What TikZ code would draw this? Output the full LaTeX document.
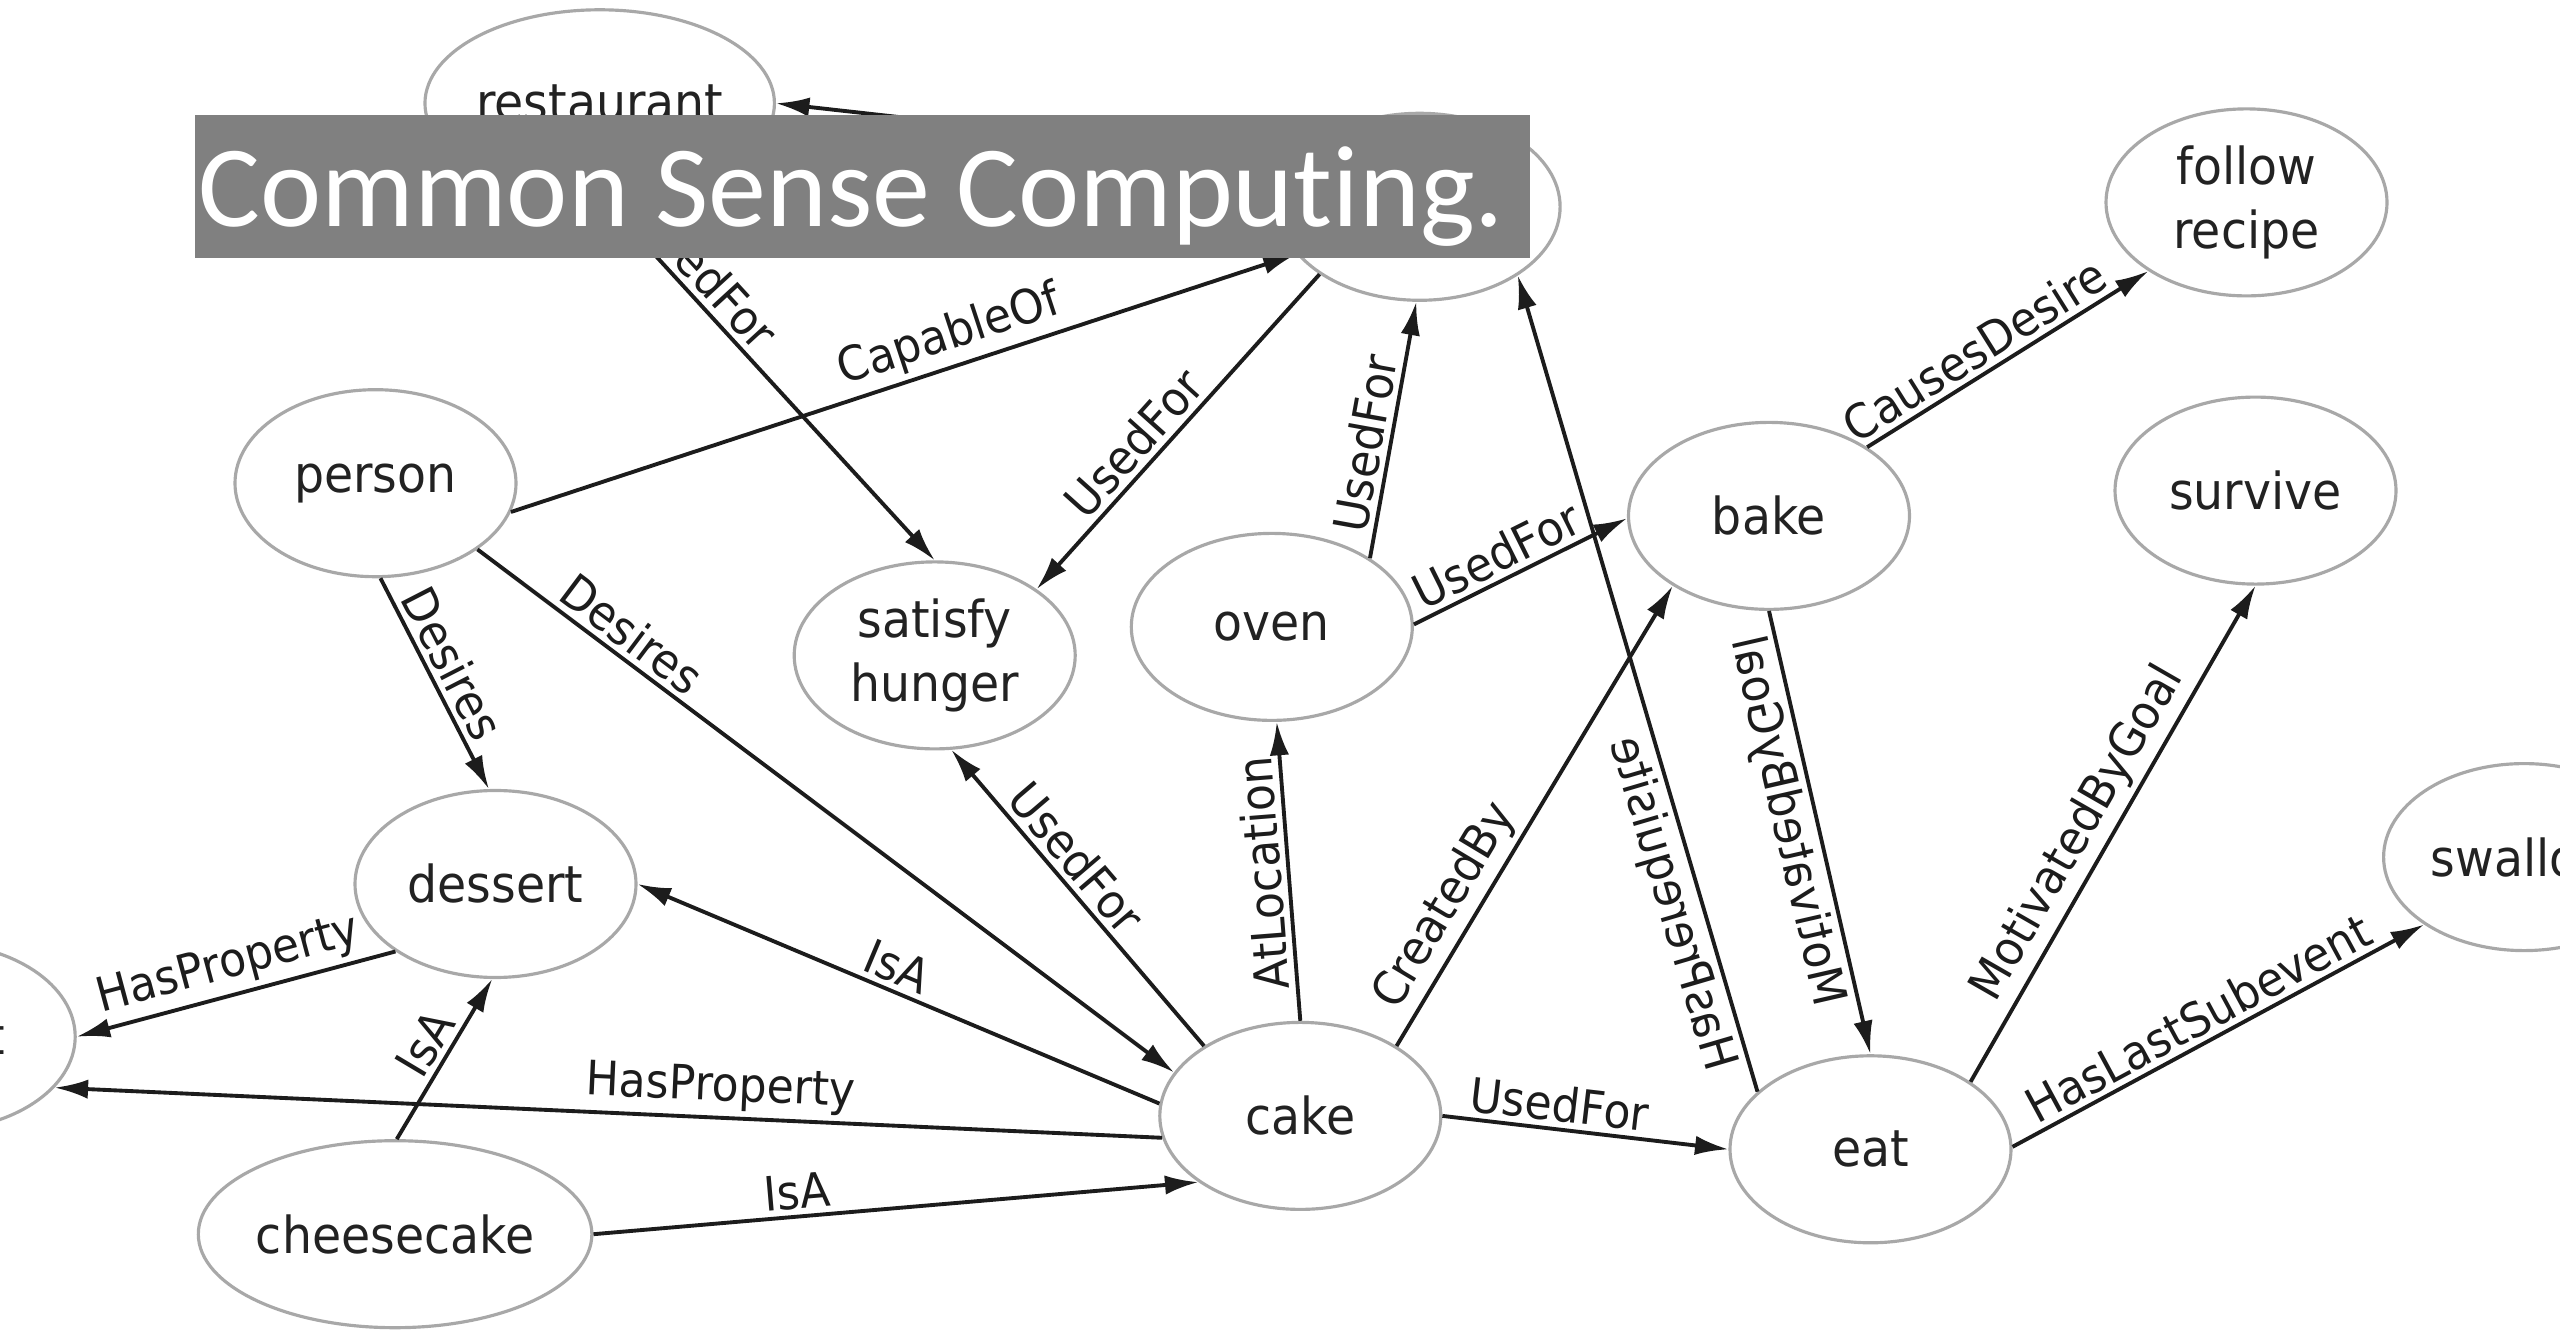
\documentclass[tikz,border=0pt]{standalone}
\usepackage{fontspec}
\setmainfont{DejaVu Sans}[FakeStretch=0.93]
\newfontfamily\titlefont{Carlito}[Ligatures=NoCommon]
\usetikzlibrary{arrows.meta,shapes.geometric}

\definecolor{nodegray}{HTML}{A8A8A8}
\definecolor{edgeblack}{HTML}{1C1C1C}
\definecolor{textblack}{HTML}{222222}
\definecolor{titlegray}{HTML}{808080}

\tikzset{
  concept/.style={ellipse, draw=nodegray, line width=0.9pt, minimum width=2.81cm,
    minimum height=1.87cm, inner sep=0pt, align=center, text=textblack,
    font=\fontsize{14.5}{18}\selectfont},
  rel/.style={draw=edgeblack, line width=1.1pt, -{Latex[length=9.5pt,width=5.5pt]}},
  lbl/.style={sloped, inner sep=1.5pt, text=edgeblack, font=\fontsize{13.5}{16}\selectfont},
  titlebox/.style={fill=titlegray, anchor=north west, inner sep=0pt,
    minimum width=13.353cm, minimum height=1.437cm},
  titletext/.style={text=white, anchor=base west, inner sep=0pt,
    font=\titlefont\fontsize{33}{36}\selectfont}
}

\begin{document}
\begin{tikzpicture}
  \useasboundingbox (0,0) rectangle (25.6,13.33);
  \fill[white] (0,0) rectangle (25.6,13.33);
  \clip (0,0) rectangle (25.6,13.33);

  % concepts
  \node[concept] (restaurant) at (5.997,12.297) {restaurant};
  \node[concept] (cook) at (14.196,11.262) {};
  \node[concept] (recipe) at (22.465,11.306) {follow\\recipe};
  \node[concept] (person) at (3.755,8.498) {person};
  \node[concept] (satisfy) at (9.347,6.776) {satisfy\\hunger};
  \node[concept] (oven) at (12.718,7.061) {oven};
  \node[concept] (bake) at (17.690,8.171) {bake};
  \node[concept] (survive) at (22.555,8.424) {survive};
  \node[concept] (dessert) at (4.955,4.490) {dessert};
  \node[concept] (sweet) at (-0.653,2.963) {sweet};
  \node[concept] (swallow) at (25.241,4.759) {swallow};
  \node[concept] (cake) at (13.003,2.171) {cake};
  \node[concept] (eat) at (18.705,1.837) {eat};
  \node[concept] (cheesecake) at (3.951,0.988) {cheesecake};

  % relations
  \draw[rel] (restaurant.-88) -- node[lbl, above, pos=.26] {UsedFor} (satisfy.90);
  \draw[rel] (cook.160) -- (restaurant.0);
  \draw[rel] (person.-12) -- node[lbl, above, pos=.57] {CapableOf} (cook.201);
  \draw[rel] (cook.214) -- node[lbl, above, pos=.59] {UsedFor} (satisfy.33);
  \draw[rel] (oven.35) -- node[lbl, above, pos=.43] {UsedFor} (cook.-92);
  \draw[rel] (oven.1) -- node[lbl, above, pos=.44] {UsedFor} (bake.181);
  \draw[rel] (bake.35) -- node[lbl, above, pos=.43] {CausesDesire} (recipe.215);
  \draw[rel] (person.-87) -- node[lbl, above, pos=.46] {Desires} (dessert.94);
  \draw[rel] (person.-33) -- node[lbl, above, pos=.2] {Desires} (cake.161);
  \draw[rel] (cake.144) -- node[lbl, above, pos=.58] {UsedFor} (satisfy.-80);
  \draw[rel] (cake.175) -- node[lbl, above, pos=.52] {IsA} (dessert.0);
  \draw[rel] (dessert.214) -- node[lbl, above, pos=.5] {HasProperty} (sweet.0);
  \draw[rel] (cake.189) -- node[lbl, above, pos=.4] {HasProperty} (sweet.-23);
  \draw[rel] (cheesecake.89) -- node[lbl, above, pos=.52] {IsA} (dessert.-92);
  \draw[rel] (cheesecake.0) -- node[lbl, above, pos=.34] {IsA} (cake.213);
  \draw[rel] (cake.90) -- node[lbl, above, allow upside down, pos=.5] {AtLocation} (oven.-87);
  \draw[rel] (cake.36) -- node[lbl, above, pos=.27] {CreatedBy} (bake.216);
  \draw[rel] (eat.153) -- node[lbl, below, pos=.24] {\scalebox{-1}[1]{HasPrerequisite}} (cook.-35);
  \draw[rel] (bake.-90) -- node[lbl, below, pos=.46] {\scalebox{-1}[1]{MotivatedByGoal}} (eat.90);
  \draw[rel] (cake.0) -- node[lbl, above, pos=.4] {UsedFor} (eat.180);
  \draw[rel] (eat.34) -- node[lbl, above, pos=.47] {MotivatedByGoal} (survive.-90);
  \draw[rel] (eat.1) -- node[lbl, above, pos=.48] {HasLastSubevent} (swallow.214);

  % slide title
  \node[titlebox] (titlebg) at (1.944,12.19) {};
  \node[titletext] (title) at (1.98,11.063) {Common Sense Computing.};
\end{tikzpicture}
\end{document}
